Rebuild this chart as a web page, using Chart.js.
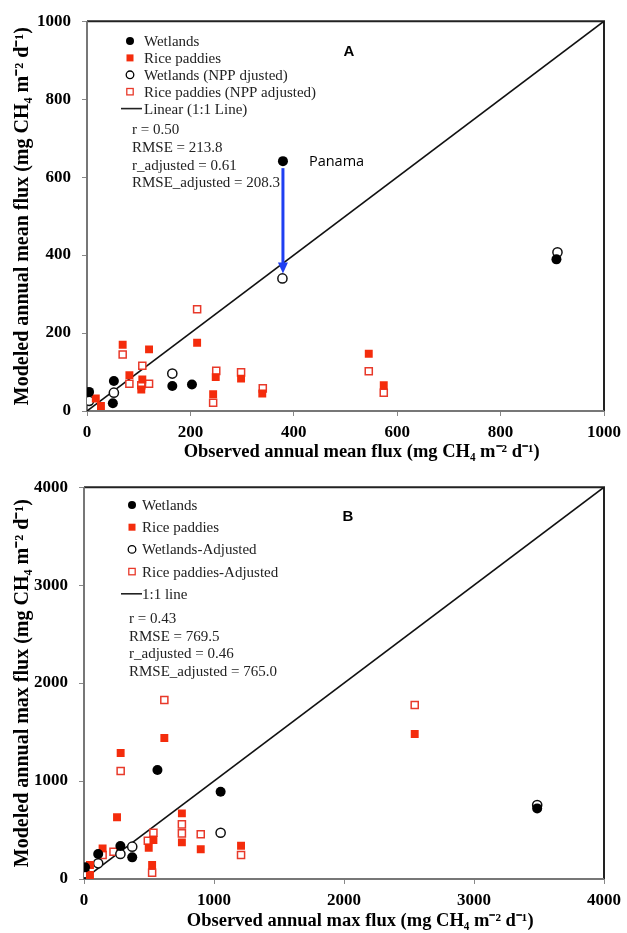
<!DOCTYPE html>
<html><head><meta charset="utf-8">
<script src="https://cdn.jsdelivr.net/npm/chart.js@4.4.1/dist/chart.umd.min.js"></script>
<style>
html,body{margin:0;padding:0;background:#fff;}
#wrapA{position:absolute;left:0;top:0;width:627px;height:466px;}
#wrapB{position:absolute;left:0;top:466px;width:627px;height:467px;}
</style></head><body>
<div id="wrapA"><canvas id="chartA"></canvas></div>
<div id="wrapB"><canvas id="chartB"></canvas></div>
<script>
// ---------- Panel A: annual mean flux [observed, modeled] ----------
const wetlandsMean = [[4,49],[52,77],[50,20],[165,64],[203,68],[379,641],[908,389]];
const riceMean = [[17,32],[27,13],[69,170],[120,158],[82,92],[107,81],[105,55],[213,175],[244,43],[249,87],[298,83],[339,45],[545,147],[574,66]];
const wetlandsMeanAdj = [[4,26],[52,47],[165,96],[378,340],[910,407]];
const riceMeanAdj = [[69,145],[107,116],[82,70],[120,70],[105,66],[213,261],[250,103],[244,21],[298,99],[340,58],[545,102],[574,47]];
const oneToOneA = [0, 1000];
const ticksA = [0, 200, 400, 600, 800, 1000];

// ---------- Panel B: annual max flux [observed, modeled] ----------
const wetlandsMax = [[8,119],[109,255],[280,337],[371,221],[565,1112],[1051,891],[3486,721]];
const riceMax = [[46,143],[46,41],[143,313],[254,630],[282,1286],[534,398],[498,319],[524,143],[618,1439],[753,670],[753,374],[898,303],[1208,339],[2544,1480]];
const wetlandsMaxAdj = [[8,58],[109,160],[280,255],[371,330],[1051,472],[3486,755]];
const riceMaxAdj = [[143,245],[227,279],[282,1102],[534,472],[491,390],[524,64],[618,1827],[753,558],[753,466],[898,456],[1208,245],[2544,1776]];
const oneToOneB = [0, 4000];
const ticksB = [0, 1000, 2000, 3000, 4000];

const legendA = ['Wetlands','Rice paddies','Wetlands (NPP djusted)','Rice paddies (NPP adjusted)','Linear (1:1 Line)'];
const statsA = ['r = 0.50','RMSE = 213.8','r_adjusted = 0.61','RMSE_adjusted = 208.3'];
const legendB = ['Wetlands','Rice paddies','Wetlands-Adjusted','Rice paddies-Adjusted','1:1 line'];
const statsB = ['r = 0.43','RMSE = 769.5','r_adjusted = 0.46','RMSE_adjusted = 765.0'];

const RED = '#f42c0c';
const RED_OPEN = '#e8392a';
const SERIF = '"Liberation Serif","Times New Roman",serif';
const toXY = arr => arr.map(p => ({x:p[0], y:p[1]}));

function drawMarker(ctx, kind, x, y){
  ctx.save();
  if (kind === 0){ ctx.fillStyle='#000'; ctx.beginPath(); ctx.arc(x,y,4,0,Math.PI*2); ctx.fill(); }
  else if (kind === 1){ ctx.fillStyle=RED; ctx.fillRect(x-3.5,y-3.5,7,7); }
  else if (kind === 2){ ctx.strokeStyle='#000'; ctx.lineWidth=1.3; ctx.beginPath(); ctx.arc(x,y,3.8,0,Math.PI*2); ctx.stroke(); }
  else if (kind === 3){ ctx.strokeStyle=RED_OPEN; ctx.lineWidth=1.3; ctx.strokeRect(x-3.2,y-3.2,6.4,6.4); }
  else { ctx.strokeStyle='#222'; ctx.lineWidth=1.6; ctx.beginPath(); ctx.moveTo(x-10,y); ctx.lineTo(x+11,y); ctx.stroke(); }
  ctx.restore();
}

const panelPlugin = {
  id: 'panelDecor',
  beforeDatasetsDraw(chart){
    const {ctx, chartArea:a} = chart;
    ctx.save();
    ctx.lineWidth = 2;
    ctx.strokeStyle = '#222';
    ctx.beginPath(); ctx.moveTo(a.left, a.top); ctx.lineTo(a.right, a.top); ctx.lineTo(a.right, a.bottom); ctx.stroke();
    ctx.strokeStyle = '#777';
    ctx.beginPath(); ctx.moveTo(a.left, a.top); ctx.lineTo(a.left, a.bottom); ctx.lineTo(a.right, a.bottom); ctx.stroke();
    ctx.restore();
  },
  afterDraw(chart, args, o){
    const ctx = chart.ctx;
    ctx.save();
    ctx.font = '15px ' + SERIF;
    ctx.fillStyle = '#222';
    ctx.textBaseline = 'middle';
    ctx.textAlign = 'left';
    o.items.forEach((t,i) => {
      const y = o.y0 + i*o.dy;
      drawMarker(ctx, i, i === 4 ? o.lx : o.mx, y);
      ctx.fillText(t, o.tx, y + 1);
    });
    o.stats.forEach((t,i) => ctx.fillText(t, o.sx, o.sy0 + i*o.sdy));
    ctx.font = 'bold 15px "Liberation Sans", Arial, sans-serif';
    ctx.fillStyle = '#000';
    ctx.textAlign = 'center';
    ctx.fillText(o.label, o.labelX, o.labelY);
    if (o.arrow){
      const xs = chart.scales.x, ys = chart.scales.y;
      const ar = o.arrow;
      const x = xs.getPixelForValue(ar.from[0]);
      const y1 = ys.getPixelForValue(ar.from[1]) + 7;
      const y2 = ys.getPixelForValue(ar.to[1]) - 5;
      ctx.strokeStyle = '#1f3ff2'; ctx.fillStyle = '#1f3ff2'; ctx.lineWidth = 3;
      ctx.beginPath(); ctx.moveTo(x, y1); ctx.lineTo(x, y2 - 9); ctx.stroke();
      ctx.beginPath(); ctx.moveTo(x - 5, y2 - 11); ctx.lineTo(x + 5, y2 - 11); ctx.lineTo(x, y2); ctx.closePath(); ctx.fill();
      ctx.font = '14.5px "Open Sans", "Liberation Sans", sans-serif';
      ctx.fillStyle = '#000';
      ctx.textAlign = 'left';
      ctx.fillText(ar.text, x + 26, ys.getPixelForValue(ar.from[1]) + 1);
    }
    ctx.restore();
  }
};

function makeChart(id, cfg){
  const datasets = [
    {label: cfg.names[0], data: toXY(cfg.wet), pointStyle:'circle', pointRadius:5, pointHoverRadius:5, backgroundColor:'#000', borderColor:'#000', borderWidth:0},
    {label: cfg.names[1], data: toXY(cfg.rice), pointStyle:'rect', pointRadius:5.6, pointHoverRadius:5.6, backgroundColor:RED, borderColor:RED, borderWidth:0},
    {label: cfg.names[2], data: toXY(cfg.wetAdj), pointStyle:'circle', pointRadius:4.6, pointHoverRadius:4.6, backgroundColor:'#fff', borderColor:'#111', borderWidth:1.5},
    {label: cfg.names[3], data: toXY(cfg.riceAdj), pointStyle:'rect', pointRadius:5, pointHoverRadius:5, backgroundColor:'#fff', borderColor:RED_OPEN, borderWidth:1.5},
    {label: cfg.names[4], data: cfg.line.map(v => ({x:v, y:v})), showLine:true, pointRadius:0, borderColor:'#111', borderWidth:1.6, backgroundColor:'#111'}
  ];
  const tickFont = {family: SERIF, weight:'bold', size:17};
  const maxV = cfg.ticks[cfg.ticks.length-1];
  const step = cfg.ticks[1] - cfg.ticks[0];
  const fmt = v => String(v);
  return new Chart(document.getElementById(id), {
    type: 'scatter',
    data: {datasets},
    options: {
      responsive: true, maintainAspectRatio: false, animation: false, devicePixelRatio: 1,
      layout: {padding: {left:0, right: cfg.padRight, top: cfg.padTop, bottom: 0}},
      plugins: {
        legend: {display:false}, tooltip: {enabled:false},
        panelDecor: cfg.decor
      },
      scales: {
        x: {
          type:'linear', min:0, max:maxV,
          afterBuildTicks: s => { s.ticks = cfg.ticks.map(v => ({value:v})); },
          ticks: {stepSize: step, font: tickFont, color:'#000', padding: 6, callback: fmt},
          grid: {display:true, drawOnChartArea:false, drawTicks:true, tickLength:5, color:'#888'},
          border: {display:false},
          title: {display:true, text: cfg.xTitle, color:'#000', font:{family:SERIF, weight:'bold', size:18.5}, padding:{top:0, bottom: cfg.xTitlePadB}},
          afterFit: s => { s.height = cfg.xHeight; }
        },
        y: {
          type:'linear', min:0, max:maxV,
          afterBuildTicks: s => { s.ticks = cfg.ticks.map(v => ({value:v})); },
          ticks: {stepSize: step, font: tickFont, color:'#000', padding: 11, callback: fmt},
          grid: {display:true, drawOnChartArea:false, drawTicks:true, tickLength:5, color:'#888'},
          border: {display:false},
          title: {display:true, text: cfg.yTitle, color:'#000', font:{family:SERIF, weight:'bold', size:20}, padding:{top: 11, bottom:0}},
          afterFit: s => { s.width = cfg.yWidth; }
        }
      }
    },
    plugins: [panelPlugin]
  });
}

const pad = '\u0020'.repeat(7);

makeChart('chartA', {
  wet: wetlandsMean, rice: riceMean, wetAdj: wetlandsMeanAdj, riceAdj: riceMeanAdj, line: oneToOneA,
  ticks: ticksA, names: legendA,
  xTitle: pad + 'Observed annual mean flux (mg CH\u2084 m\u207B\u00B2 d\u207B\u00B9)',
  yTitle: 'Modeled annual mean flux (mg CH\u2084 m\u207B\u00B2 d\u207B\u00B9)',
  padRight: 23, padTop: 18, yWidth: 87, xHeight: 55, xTitlePadB: 3,
  decor: {items: legendA, stats: statsA, mx: 130, lx: 131, tx: 144, y0: 41, dy: 16.9,
          sx: 132, sy0: 130, sdy: 17.8, label: 'A', labelX: 349, labelY: 52,
          arrow: {from: wetlandsMean[5], to: wetlandsMeanAdj[3], text: 'Panama'}}
});

makeChart('chartB', {
  wet: wetlandsMax, rice: riceMax, wetAdj: wetlandsMaxAdj, riceAdj: riceMaxAdj, line: oneToOneB,
  ticks: ticksB, names: legendB,
  xTitle: pad + 'Observed annual max flux (mg CH\u2084 m\u207B\u00B2 d\u207B\u00B9)',
  yTitle: 'Modeled annual max flux (mg CH\u2084 m\u207B\u00B2 d\u207B\u00B9)',
  padRight: 19, padTop: 21, yWidth: 84, xHeight: 467 - 21 - 392, xTitlePadB: 1,
  decor: {items: legendB, stats: statsB, mx: 132, lx: 131, tx: 142, y0: 39, dy: 22.2,
          sx: 129, sy0: 153, sdy: 17.7, label: 'B', labelX: 348, labelY: 51, arrow: null}
});
</script>
</body></html>
